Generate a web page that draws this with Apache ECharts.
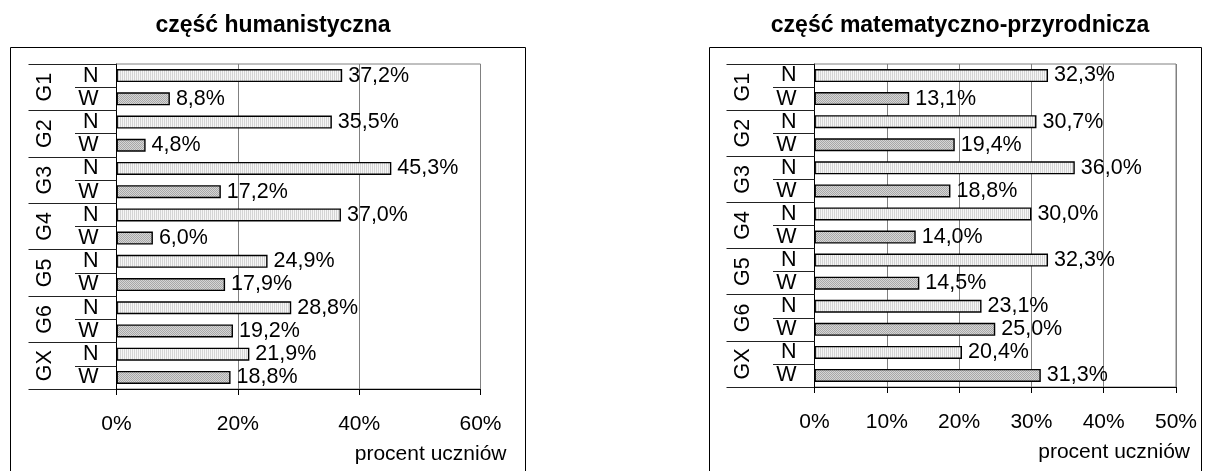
<!DOCTYPE html>
<html>
<head>
<meta charset="utf-8">
<script src="https://cdn.jsdelivr.net/npm/echarts@6/dist/echarts.min.js"></script>
<style>
  html, body { margin: 0; padding: 0; background: #fff; }
  #chart { width: 1206px; height: 471px; }
</style>
</head>
<body>
<div id="chart"></div>
<script>
// Groups of schools and the two answer types shown for each
const groups = ['G1', 'G2', 'G3', 'G4', 'G5', 'G6', 'GX'];
const subLabels = ['N', 'W'];

// Percentage of pupils, humanities part
const humN = [37.2, 35.5, 45.3, 37.0, 24.9, 28.8, 21.9];
const humW = [8.8, 4.8, 17.2, 6.0, 17.9, 19.2, 18.8];

// Percentage of pupils, maths & science part
const matN = [32.3, 30.7, 36.0, 30.0, 32.3, 23.1, 20.4];
const matW = [13.1, 19.4, 18.8, 14.0, 14.5, 25.0, 31.3];

const titles = ['część humanistyczna', 'część matematyczno-przyrodnicza'];
const axisName = 'procent uczniów';

const FONT = 'Liberation Sans, Arial, sans-serif';

// Fill patterns for the two bar kinds
function makePattern(w, h, draw) {
  const c = document.createElement('canvas');
  c.width = w; c.height = h;
  draw(c.getContext('2d'));
  return c;
}
const patN = makePattern(2, 2, ctx => {
  ctx.fillStyle = '#f6f6f6'; ctx.fillRect(0, 0, 2, 2);
  ctx.fillStyle = '#d4d4d4'; ctx.fillRect(0, 0, 1, 2);
});
const patW = makePattern(2, 2, ctx => {
  ctx.fillStyle = '#d6d6d6'; ctx.fillRect(0, 0, 2, 2);
  ctx.fillStyle = '#a8a8a8'; ctx.fillRect(0, 0, 1, 1); ctx.fillRect(1, 1, 1, 1);
});
const styleN = { color: { image: patN, repeat: 'repeat' }, borderColor: '#000', borderWidth: 1.4 };
const styleW = { color: { image: patW, repeat: 'repeat' }, borderColor: '#000', borderWidth: 1.4 };

const innerCats = [];
groups.forEach(() => subLabels.forEach(s => innerCats.push(s)));

function buildData(nVals, wVals) {
  const out = [];
  groups.forEach((g, i) => {
    out.push({ value: nVals[i], itemStyle: styleN });
    out.push({ value: wVals[i], itemStyle: styleW });
  });
  return out;
}

const fmtPct = v => v.toFixed(1).replace('.', ',') + '%';

// Panel geometry
const panels = [
  { grid: { left: 116.5, top: 64, width: 364, height: 325 }, max: 60, interval: 20, nameGap: 26,
    box: { x: 10.5, y: 47.5, width: 515, height: 440 }, titleX: 268 },
  { grid: { left: 814.5, top: 64, width: 361.5, height: 323 }, max: 50, interval: 10, nameGap: 14,
    box: { x: 709.5, y: 47.5, width: 492, height: 440 }, titleX: 955 }
];

const grid = [], xAxis = [], yAxis = [], series = [], title = [], graphic = [];
const datasets = [[humN, humW], [matN, matW]];

panels.forEach((p, k) => {
  grid.push(Object.assign({ show: true, borderColor: '#808080', borderWidth: 1, backgroundColor: 'transparent' }, p.grid));
  xAxis.push({
    type: 'value', gridIndex: k, min: 0, max: p.max, interval: p.interval,
    axisLine: { show: true, lineStyle: { color: '#000', width: 1 } },
    axisTick: { show: true, length: 6, lineStyle: { color: '#000' } },
    splitLine: { show: true, lineStyle: { color: '#808080', width: 1 } },
    axisLabel: { formatter: '{value}%', fontSize: 21, color: '#000', fontFamily: FONT, margin: 25 },
    name: axisName, nameLocation: 'end', nameGap: p.nameGap,
    nameTextStyle: { fontSize: 21, color: '#000', fontFamily: FONT, align: 'right', verticalAlign: 'top', padding: [55, 0, 0, 0] }
  });
  // inner category axis: N / W
  yAxis.push({
    type: 'category', gridIndex: k, position: 'left', inverse: true, data: innerCats,
    axisLine: { show: true, lineStyle: { color: '#000', width: 1 } },
    axisTick: { show: true, interval: 0, length: 41.5, lineStyle: { color: '#222' } },
    axisLabel: { interval: 0, fontSize: 21.5, color: '#000', fontFamily: FONT, margin: 18 },
    splitLine: { show: false }
  });
  // outer category axis: school groups
  yAxis.push({
    type: 'category', gridIndex: k, position: 'left', offset: 0, inverse: true, data: groups,
    axisLine: { show: false },
    axisTick: { show: true, interval: 0, length: 88, lineStyle: { color: '#222' } },
    axisLabel: { interval: 0, fontSize: 21.5, color: '#000', fontFamily: FONT, rotate: 90, margin: 71, align: 'center', verticalAlign: 'middle' },
    splitLine: { show: false }
  });
  series.push({
    type: 'bar', xAxisIndex: k, yAxisIndex: k * 2, barWidth: 13,
    data: buildData(datasets[k][0], datasets[k][1]),
    label: { show: true, position: 'right', distance: 6, fontSize: 21.5, color: '#000', fontFamily: FONT,
      formatter: prm => fmtPct(prm.value) },
    emphasis: { disabled: true }, animation: false
  });
  title.push({
    text: titles[k], left: p.titleX, top: 9, textAlign: 'center',
    textStyle: { fontSize: 23, fontWeight: 'bold', color: '#000', fontFamily: FONT }
  });
  graphic.push({
    type: 'rect', shape: p.box, style: { fill: 'none', stroke: '#000', lineWidth: 1 }, silent: true
  });
});

const chart = echarts.init(document.getElementById('chart'), null, { renderer: 'canvas' });
chart.setOption({
  animation: false,
  backgroundColor: '#fff',
  title, grid, xAxis, yAxis, series, graphic
});
</script>
</body>
</html>
